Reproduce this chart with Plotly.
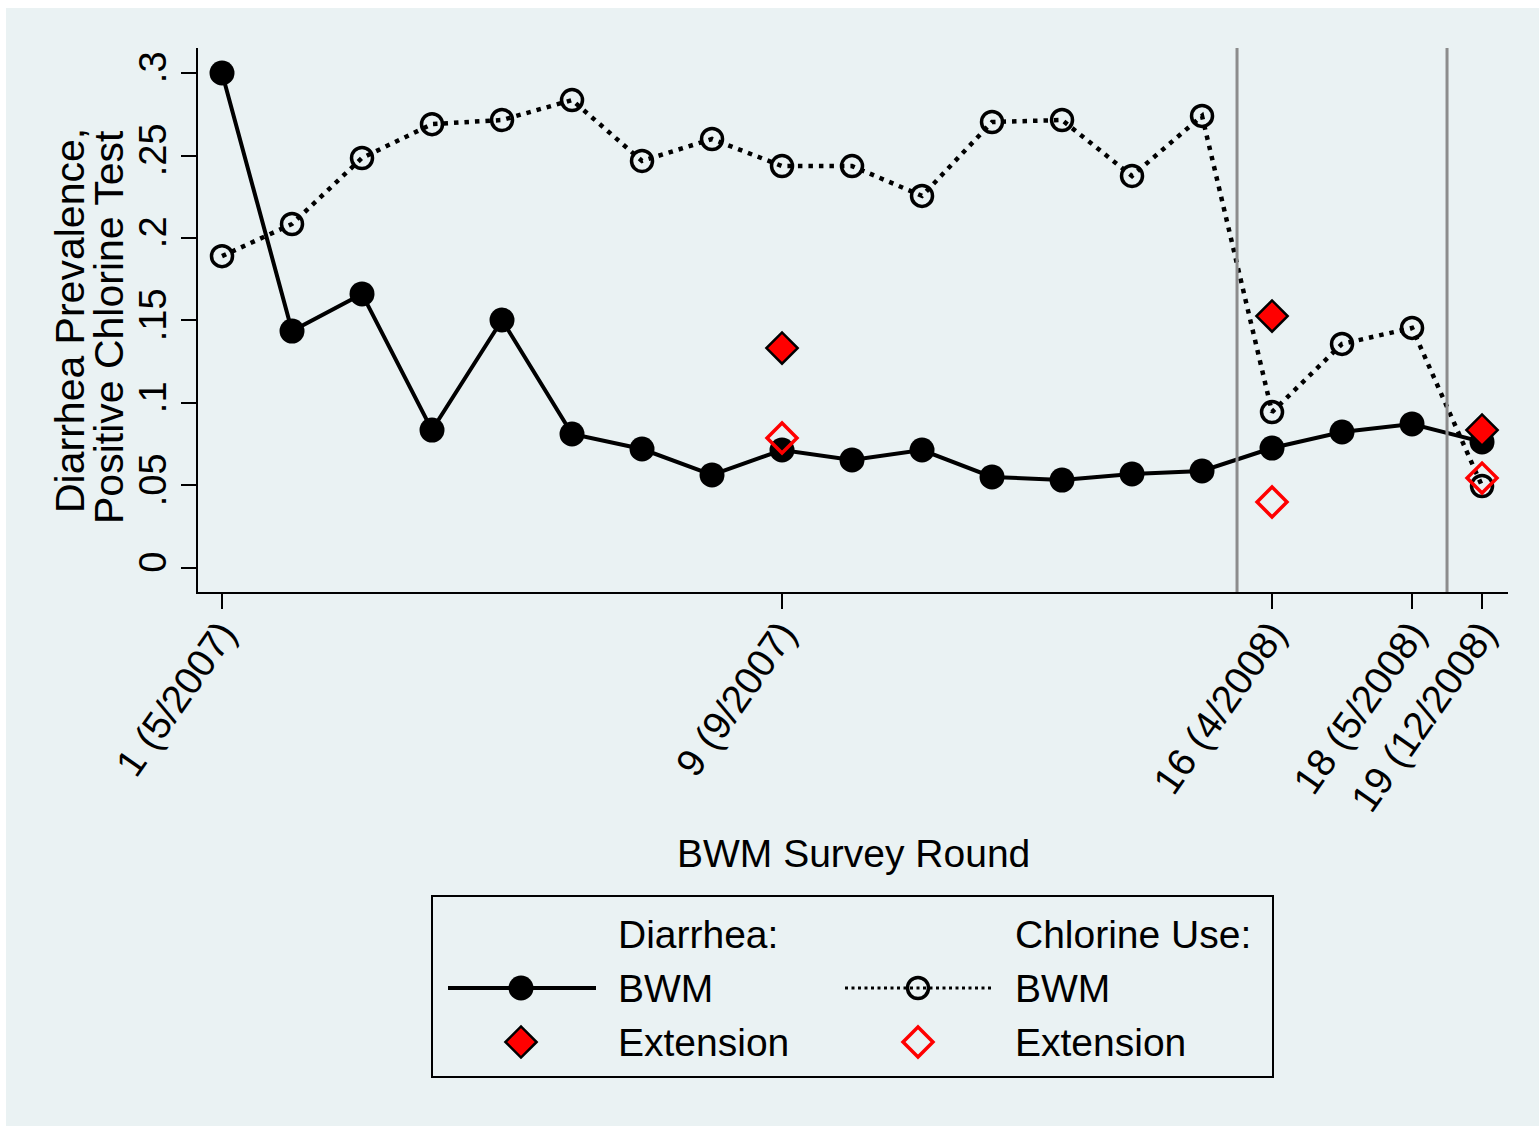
import plotly.graph_objects as go

# Survey rounds and prevalence values
rounds = list(range(1, 20))
diarrhea_bwm = [0.300, 0.1436, 0.1661, 0.0836, 0.1503, 0.0812, 0.0721, 0.0564, 0.0715, 0.0655,
                 0.0715, 0.0552, 0.0533, 0.0570, 0.0588, 0.0727, 0.0824, 0.0873, 0.0764]
chlorine_bwm = [0.189, 0.2085, 0.2485, 0.269, 0.2715, 0.2836, 0.2467, 0.260, 0.2436, 0.2436,
                0.2255, 0.2703, 0.2715, 0.2376, 0.274, 0.0945, 0.1358, 0.1455, 0.0497]
ext_rounds = [9, 16, 19]
diarrhea_ext = [0.1333, 0.1527, 0.0836]
chlorine_ext = [0.0788, 0.0400, 0.0545]

tick_rounds = [1, 9, 16, 18, 19]
tick_labels = ["1 (5/2007)", "9 (9/2007)", "16 (4/2008)", "18 (5/2008)", "19 (12/2008)"]
y_ticks = [0, 0.05, 0.1, 0.15, 0.2, 0.25, 0.3]
y_tick_labels = ["0", ".05", ".1", ".15", ".2", ".25", ".3"]
phase_breaks = [15.5, 18.5]

FONT = "Liberation Sans, Arial, Helvetica, sans-serif"
BG = "#EAF2F3"
W, H = 1539, 1126
ML, MR, MT, MB = 198, 31, 48, 44
PW = W - ML - MR
PH = H - MT - MB


def px_x(px):
    return (px - ML) / PW


def px_y(py):
    return (H - MB - py) / PH


fig = go.Figure()

# main series
fig.add_trace(go.Scatter(
    x=rounds, y=diarrhea_bwm, mode="lines+markers",
    line=dict(color="black", width=4),
    marker=dict(symbol="circle", size=25, color="black"),
    showlegend=False, xaxis="x", yaxis="y"))
fig.add_trace(go.Scatter(
    x=rounds, y=chlorine_bwm, mode="lines+markers",
    line=dict(color="black", width=4.5, dash="4.5px,6px"),
    marker=dict(symbol="circle-open", size=21, color="black", line=dict(width=3.5, color="black")),
    showlegend=False, xaxis="x", yaxis="y"))
fig.add_trace(go.Scatter(
    x=ext_rounds, y=diarrhea_ext, mode="markers",
    marker=dict(symbol="diamond", size=24, color="#FF0000", line=dict(width=2.5, color="black")),
    showlegend=False, xaxis="x", yaxis="y"))
fig.add_trace(go.Scatter(
    x=ext_rounds, y=chlorine_ext, mode="markers",
    marker=dict(symbol="diamond-open", size=23, color="#FF0000", line=dict(width=3.5, color="#FF0000")),
    showlegend=False, xaxis="x", yaxis="y"))

# legend samples (drawn in a small hidden subplot, coordinates in box pixels)
row_y = [143, 89, 35]
fig.add_trace(go.Scatter(x=[16, 89, 164], y=[row_y[1]] * 3, mode="lines",
                         line=dict(color="black", width=4), showlegend=False,
                         xaxis="x2", yaxis="y2", hoverinfo="skip"))
fig.add_trace(go.Scatter(x=[89], y=[row_y[1]], mode="markers",
                         marker=dict(symbol="circle", size=25, color="black"),
                         showlegend=False, xaxis="x2", yaxis="y2", hoverinfo="skip"))
fig.add_trace(go.Scatter(x=[413, 560], y=[row_y[1]] * 2, mode="lines",
                         line=dict(color="black", width=3, dash="3px,3.5px"), showlegend=False,
                         xaxis="x2", yaxis="y2", hoverinfo="skip"))
fig.add_trace(go.Scatter(x=[486], y=[row_y[1]], mode="markers",
                         marker=dict(symbol="circle-open", size=21, color="black",
                                     line=dict(width=3.5, color="black")),
                         showlegend=False, xaxis="x2", yaxis="y2", hoverinfo="skip"))
fig.add_trace(go.Scatter(x=[89], y=[row_y[2]], mode="markers",
                         marker=dict(symbol="diamond", size=24, color="#FF0000",
                                     line=dict(width=2.5, color="black")),
                         showlegend=False, xaxis="x2", yaxis="y2", hoverinfo="skip"))
fig.add_trace(go.Scatter(x=[486], y=[row_y[2]], mode="markers",
                         marker=dict(symbol="diamond-open", size=23, color="#FF0000",
                                     line=dict(width=3.5, color="#FF0000")),
                         showlegend=False, xaxis="x2", yaxis="y2", hoverinfo="skip"))

shapes = [
    # outer graph region
    dict(type="rect", xref="paper", yref="paper",
         x0=px_x(6), x1=px_x(W + 10), y0=px_y(H + 10), y1=px_y(8),
         fillcolor=BG, line=dict(width=0), layer="below"),
    # legend frame
    dict(type="rect", xref="x2 domain", yref="y2 domain", x0=0, x1=1, y0=0, y1=1,
         line=dict(color="black", width=2), fillcolor="rgba(0,0,0,0)", layer="above"),
]
for xb in phase_breaks:
    shapes.append(dict(type="line", xref="x", yref="y domain", x0=xb, x1=xb, y0=0, y1=1,
                       line=dict(color="#8C8C8C", width=3), layer="above"))

annotations = [
    dict(text="BWM Survey Round", xref="paper", yref="paper", x=px_x(853), y=px_y(853),
         xanchor="center", yanchor="middle", showarrow=False, font=dict(size=39)),
    dict(text="Diarrhea Prevalence,", xref="paper", yref="paper", x=px_x(70), y=px_y(321),
         xanchor="center", yanchor="middle", textangle=-90, showarrow=False, font=dict(size=41)),
    dict(text="Positive Chlorine Test", xref="paper", yref="paper", x=px_x(109), y=px_y(327),
         xanchor="center", yanchor="middle", textangle=-90, showarrow=False, font=dict(size=41)),
]
legend_text = [
    (184, row_y[0], "Diarrhea:"), (581, row_y[0], "Chlorine Use:"),
    (184, row_y[1], "BWM"), (581, row_y[1], "BWM"),
    (184, row_y[2], "Extension"), (581, row_y[2], "Extension"),
]
for lx, ly, txt in legend_text:
    annotations.append(dict(text=txt, xref="x2", yref="y2", x=lx, y=ly, xanchor="left",
                            yanchor="middle", showarrow=False, font=dict(size=39)))

fig.update_layout(
    width=W, height=H,
    margin=dict(l=ML, r=MR, t=MT, b=MB, pad=0),
    paper_bgcolor="white", plot_bgcolor="white",
    font=dict(family=FONT, color="black", size=38),
    showlegend=False,
    xaxis=dict(domain=[0, 1], anchor="y", range=[0.657, 19.371],
               tickmode="array", tickvals=tick_rounds, ticktext=tick_labels, tickangle=-55,
               ticks="outside", ticklen=15, tickwidth=2, tickcolor="black",
               showline=True, linecolor="black", linewidth=2, showgrid=False, zeroline=False,
               ticklabelstandoff=-14, tickfont=dict(size=39)),
    yaxis=dict(domain=[px_y(592), 1], anchor="x", range=[-0.01455, 0.31515],
               tickmode="array", tickvals=y_ticks, ticktext=y_tick_labels, tickangle=-90,
               ticks="outside", ticklen=15, tickwidth=2, tickcolor="black",
               showline=True, linecolor="black", linewidth=2, showgrid=True,
               gridcolor=BG, gridwidth=3, zeroline=False, tickfont=dict(size=38)),
    xaxis2=dict(domain=[px_x(432), px_x(1273)], anchor="y2", range=[0, 841], visible=False),
    yaxis2=dict(domain=[px_y(1077), px_y(896)], anchor="x2", range=[0, 181], visible=False),
    shapes=shapes,
    annotations=annotations,
)

fig.write_html("out.html")
